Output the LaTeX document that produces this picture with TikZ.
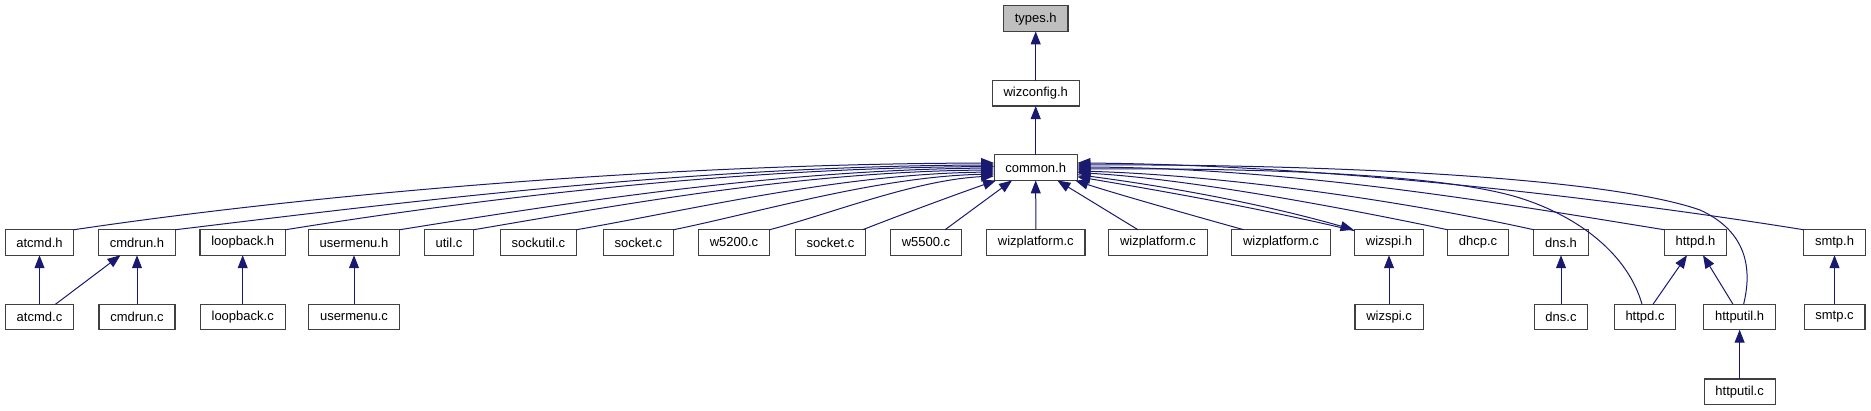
\documentclass[tikz,border=0pt]{standalone}
\usepackage{fontspec}
\setmainfont{Liberation Sans}
\usetikzlibrary{arrows.meta}
\definecolor{edgeblue}{HTML}{191970}
\definecolor{boxline}{HTML}{404040}
\definecolor{rootfill}{HTML}{BFBFBF}
\tikzset{
  file/.style={draw=boxline, line width=1.1pt, fill=white, rectangle, minimum height=25.5pt,
    inner xsep=11.3pt, inner ysep=0pt, outer sep=0pt, font=\fontsize{13}{15}\selectfont},
  rootfile/.style={file, fill=rootfill},
  dep/.style={draw=edgeblue, line width=1pt, -{Triangle[length=13pt,width=10pt]}}
}
\begin{document}
\begin{tikzpicture}[x=1pt,y=-1pt]
\useasboundingbox (0,0) rectangle (1871,411);
% top chain
\node[rootfile] (typesh) at (1035.7,18.7) {types.h};
\node[file] (wizconfigh) at (1035.7,93.3) {wizconfig.h};
\node[file] (commonh) at (1035.7,167.7) {common.h};
% row 1
\node[file] (atcmdh) at (39.5,242.5) {atcmd.h};
\node[file] (cmdrunh) at (137,242.5) {cmdrun.h};
\node[file] (loopbackh) at (242.7,242.5) {loopback.h};
\node[file] (usermenuh) at (354,242.5) {usermenu.h};
\node[file] (utilc) at (449,242.5) {util.c};
\node[file] (sockutilc) at (538.4,242.5) {sockutil.c};
\node[file] (socketcA) at (638.4,242.5) {socket.c};
\node[file] (w5200c) at (734,242.5) {w5200.c};
\node[file] (socketcB) at (830.5,242.5) {socket.c};
\node[file] (w5500c) at (926,242.5) {w5500.c};
\node[file] (wizplatA) at (1035.8,242.5) {wizplatform.c};
\node[file] (wizplatB) at (1158,242.5) {wizplatform.c};
\node[file] (wizplatC) at (1281,242.5) {wizplatform.c};
\node[file] (wizspih) at (1389,242.5) {wizspi.h};
\node[file] (dhcpc) at (1478,242.5) {dhcp.c};
\node[file] (dnsh) at (1561,242.5) {dns.h};
\node[file] (httpdh) at (1695.5,242.5) {httpd.h};
\node[file] (smtph) at (1834.5,242.5) {smtp.h};
% row 2
\node[file] (atcmdc) at (39.5,317) {atcmd.c};
\node[file] (cmdrunc) at (137,317) {cmdrun.c};
\node[file] (loopbackc) at (242.7,317) {loopback.c};
\node[file] (usermenuc) at (354,317) {usermenu.c};
\node[file] (wizspic) at (1389,317) {wizspi.c};
\node[file] (dnsc) at (1561,317) {dns.c};
\node[file] (httpdc) at (1645,317) {httpd.c};
\node[file] (httputilh) at (1739.6,317) {httputil.h};
\node[file] (smtpc) at (1834.5,317) {smtp.c};
% row 3
\node[file] (httputilc) at (1739.6,391.8) {httputil.c};

% top chain edges
\draw[dep] (wizconfigh.north) -- (typesh.south);
\draw[dep] (commonh.north) -- (wizconfigh.south);

% left side edges into common.h
\draw[dep] (atcmdh.north east) .. controls (300,196) and (650,164) .. ([yshift=4.7pt]commonh.west);
\draw[dep] (cmdrunh.north east) .. controls (396,203) and (691,166) .. ([yshift=2.7pt]commonh.west);
\draw[dep] (loopbackh.north east) .. controls (477,199) and (732,168) .. ([yshift=1.2pt]commonh.west);
\draw[dep] (usermenuh.north east) .. controls (560,204) and (775,170) .. ([yshift=-0.3pt]commonh.west);
\draw[dep] (utilc.north east) .. controls (614,206) and (800,171.5) .. ([yshift=-2.3pt]commonh.west);
\draw[dep] (sockutilc.north east) .. controls (690,210) and (840,174) .. ([yshift=-4.3pt]commonh.west);
\draw[dep] (socketcA.north east) .. controls (760,212) and (880,176.5) .. ([yshift=-6.3pt]commonh.west);
\draw[dep] (w5200c.north east) .. controls (830,214) and (915,180) .. ([yshift=-8.3pt]commonh.west);
\draw[dep] ([xshift=-3pt]socketcB.north east) .. controls (900,215) and (960,193) .. ([xshift=2pt]commonh.south west);
\draw[dep] ([xshift=19pt]w5500c.north) -- ([xshift=18pt]commonh.south west);
\draw[dep] (wizplatA.north) -- (commonh.south);
\draw[dep] ([xshift=-20pt]wizplatB.north) -- ([xshift=-20pt]commonh.south east);
\draw[dep] ([xshift=12pt]wizplatC.north west) .. controls (1180,212) and (1110,192) .. ([xshift=-2pt]commonh.south east);

% right side edges into common.h
\draw[dep] ([yshift=-1pt]wizspih.north west) .. controls (1250,206) and (1150,189) .. ([yshift=-9pt]commonh.east);
\draw[dep] ([yshift=-7pt]commonh.east) .. controls (1160,185) and (1260,203) .. ([xshift=-1pt]wizspih.north west);
\draw[dep] (dhcpc.north west) .. controls (1330,205) and (1180,178) .. ([yshift=-5pt]commonh.east);
\draw[dep] (dnsh.north west) .. controls (1400,200) and (1220,175) .. ([yshift=-3.3pt]commonh.east);
\draw[dep] ([xshift=-3pt]httpdc.north) .. controls (1628,255) and (1580,217) .. (1520,198)
  .. controls (1440,173) and (1250,168) .. ([yshift=-1.3pt]commonh.east);
\draw[dep] (httpdh.north west) .. controls (1514,205.5) and (1300,168) .. ([yshift=0.7pt]commonh.east);
\draw[dep] ([xshift=4pt]httputilh.north) .. controls (1752,270) and (1748,232) .. (1700,210)
  .. controls (1600,175) and (1300,164) .. ([yshift=2.7pt]commonh.east);
\draw[dep] (smtph.north west) .. controls (1650,205) and (1350,165) .. ([yshift=4.7pt]commonh.east);

% lower edges
\draw[dep] (atcmdc.north) -- (atcmdh.south);
\draw[dep] ([xshift=16pt]atcmdc.north) -- ([xshift=-16.5pt]cmdrunh.south);
\draw[dep] (cmdrunc.north) -- (cmdrunh.south);
\draw[dep] (loopbackc.north) -- (loopbackh.south);
\draw[dep] (usermenuc.north) -- (usermenuh.south);
\draw[dep] (wizspic.north) -- (wizspih.south);
\draw[dep] (dnsc.north) -- (dnsh.south);
\draw[dep] ([xshift=8pt]httpdc.north) -- ([xshift=-8.5pt]httpdh.south);
\draw[dep] ([xshift=-6.6pt]httputilh.north) -- ([xshift=7.5pt]httpdh.south);
\draw[dep] (smtpc.north) -- (smtph.south);
\draw[dep] (httputilc.north) -- (httputilh.south);
\end{tikzpicture}
\end{document}
